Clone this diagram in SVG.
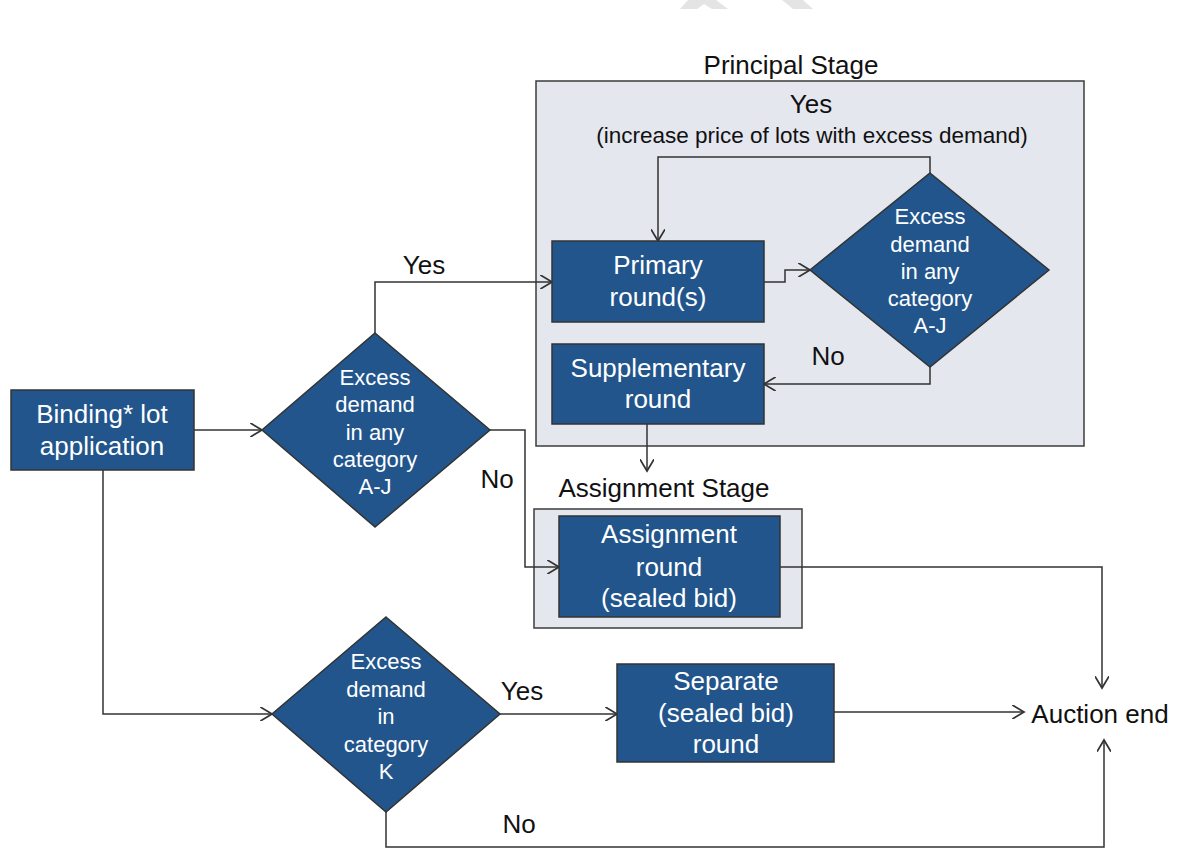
<svg xmlns="http://www.w3.org/2000/svg" width="1190" height="865" viewBox="0 0 1190 865">
<style>
  .stage{fill:#E5E7EF;stroke:#3C3C3C;stroke-width:1.5}
  .box{fill:#21558C;stroke:#333;stroke-width:1.5}
  .wt{fill:#fff;font-family:"Liberation Sans",Arial,sans-serif;font-size:26px;text-anchor:middle}
  .dt{fill:#fff;font-family:"Liberation Sans",Arial,sans-serif;font-size:22px;text-anchor:middle}
  .lb{fill:#111;font-family:"Liberation Sans",Arial,sans-serif;font-size:26px;text-anchor:middle}
  .conn path{fill:none;stroke:#333;stroke-width:1.5}
  .wm{fill:#E4E4E4}
</style>
<defs>
  <marker id="arr" markerUnits="userSpaceOnUse" markerWidth="14" markerHeight="14" refX="10" refY="6" orient="auto" viewBox="0 0 12 12">
    <path d="M0,0 L10,6 L0,12" fill="none" stroke="#333" stroke-width="1.5"/>
  </marker>
</defs>
<rect width="1190" height="865" fill="#fff"/>
<g id="watermark">
  <polygon class="wm" points="680,9 688,0 716,0 728,9 712,9 704,4 697,9"/>
  <polygon class="wm" points="782,0 803,0 813,9 793,9"/>
</g>
<g id="principal-stage">
  <rect class="stage" x="536" y="81" width="548" height="365"/>
  <text class="lb" x="791" y="74">Principal Stage</text>
  <text class="lb" x="811" y="113">Yes</text>
  <text class="lb" x="812" y="143" style="font-size:22.5px">(increase price of lots with excess demand)</text>
  <text class="lb" x="828" y="365">No</text>
</g>
<g id="assignment-stage">
  <rect class="stage" x="534" y="509" width="268" height="119"/>
  <text class="lb" x="664" y="497">Assignment Stage</text>
</g>
<g class="conn" id="connectors">
  <path d="M194,430 H262" marker-end="url(#arr)"/>
  <path d="M375,333 V282 H552" marker-end="url(#arr)"/>
  <path d="M490,430 H525 V567 H559" marker-end="url(#arr)"/>
  <path d="M103,470 V714 H272" marker-end="url(#arr)"/>
  <path d="M500,714 H617" marker-end="url(#arr)"/>
  <path d="M386,812 V847 H1104 V740" marker-end="url(#arr)"/>
  <path d="M780,567 H1102 V688" marker-end="url(#arr)"/>
  <path d="M834,712 H1024" marker-end="url(#arr)"/>
  <path d="M764,282 H785 V270 H810" marker-end="url(#arr)"/>
  <path d="M930,173 V157 H658 V241" marker-end="url(#arr)"/>
  <path d="M930,367 V384 H764" marker-end="url(#arr)"/>
  <path d="M647,424 V471" marker-end="url(#arr)"/>
</g>
<g id="binding">
  <rect class="box" x="11" y="390" width="183" height="80"/>
  <text class="wt" x="102" y="423">Binding* lot</text>
  <text class="wt" x="102" y="455">application</text>
</g>
<g id="decision-aj">
  <polygon class="box" points="375,333 490,430 375,527 262,430"/>
  <text class="dt" x="375" y="385">Excess</text>
  <text class="dt" x="375" y="412">demand</text>
  <text class="dt" x="375" y="440">in any</text>
  <text class="dt" x="375" y="467">category</text>
  <text class="dt" x="375" y="494">A-J</text>
</g>
<g id="primary">
  <rect class="box" x="552" y="241" width="212" height="81"/>
  <text class="wt" x="658" y="274">Primary</text>
  <text class="wt" x="658" y="306">round(s)</text>
</g>
<g id="decision-principal">
  <polygon class="box" points="930,173 1049,270 930,367 810,270"/>
  <text class="dt" x="930" y="224">Excess</text>
  <text class="dt" x="930" y="252">demand</text>
  <text class="dt" x="930" y="279">in any</text>
  <text class="dt" x="930" y="306">category</text>
  <text class="dt" x="930" y="333">A-J</text>
</g>
<g id="supplementary">
  <rect class="box" x="552" y="344" width="212" height="80"/>
  <text class="wt" x="658" y="377">Supplementary</text>
  <text class="wt" x="658" y="408">round</text>
</g>
<g id="assignment">
  <rect class="box" x="559" y="516" width="221" height="101"/>
  <text class="wt" x="669" y="543">Assignment</text>
  <text class="wt" x="669" y="576">round</text>
  <text class="wt" x="669" y="607">(sealed bid)</text>
</g>
<g id="decision-k">
  <polygon class="box" points="386,617 500,714 386,812 272,714"/>
  <text class="dt" x="386" y="669">Excess</text>
  <text class="dt" x="386" y="697">demand</text>
  <text class="dt" x="386" y="724">in</text>
  <text class="dt" x="386" y="752">category</text>
  <text class="dt" x="386" y="779">K</text>
</g>
<g id="separate">
  <rect class="box" x="617" y="664" width="217" height="98"/>
  <text class="wt" x="726" y="690">Separate</text>
  <text class="wt" x="726" y="722">(sealed bid)</text>
  <text class="wt" x="726" y="753">round</text>
</g>
<g id="auction-end">
  <text class="lb" x="1100" y="723">Auction end</text>
</g>
<g id="labels">
  <text class="lb" x="424" y="274">Yes</text>
  <text class="lb" x="497" y="488">No</text>
  <text class="lb" x="522" y="700">Yes</text>
  <text class="lb" x="519" y="833">No</text>
</g>
</svg>
